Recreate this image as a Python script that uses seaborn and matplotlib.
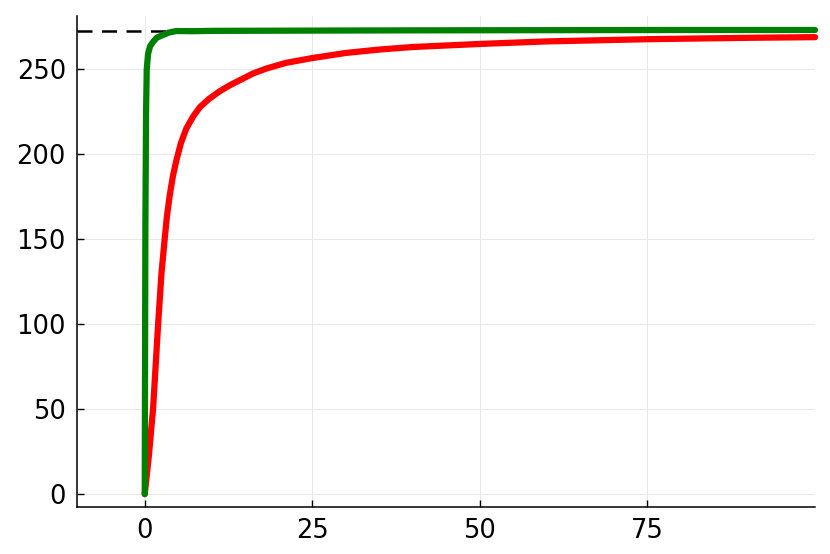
import matplotlib
matplotlib.use("Agg")
import matplotlib.pyplot as plt
import seaborn as sns
import pandas as pd

# Data
red_x = [0, 0.6, 1.24, 2, 2.5, 3, 3.3, 3.7, 4.2, 4.7, 5.4, 6.2, 7.2, 8.2, 9.6, 11.2, 12.7, 14.2, 16.2, 18.2, 21.1, 25, 30, 35, 40, 50, 60, 75, 90, 100]
red_y = [0, 22, 50, 100, 130, 151, 163, 175, 187, 196, 206.5, 215, 222, 227.5, 232.5, 237, 240.5, 243.5, 247.5, 250.4, 253.7, 256.5, 259.5, 261.5, 263, 264.8, 266.3, 267.6, 268.4, 268.8]
green_x = [0, 0.05, 0.1, 0.2, 0.3, 0.5, 0.8, 1.24, 1.8, 2.7, 3.6, 4.7, 7, 10, 20, 40, 60, 80, 100]
green_y = [0, 80, 160, 225, 250, 259, 263.5, 266, 268.5, 270, 271.5, 272.4, 272.3, 272.5, 272.6, 272.8, 272.9, 273, 273]
target_y = 272.5
x_ticks = [0, 25, 50, 75]
y_ticks = [0, 50, 100, 150, 200, 250]

sns.set_style("white")
plt.rcParams['font.family'] = ['DejaVu Sans']

fig = plt.figure(figsize=(8.3, 5.54), dpi=100)
ax = fig.add_axes([0.0928, 0.0848, 0.982 - 0.0928, 0.971 - 0.0848])

ax.axhline(target_y, color="black", linestyle=(0, (6, 3.8)), linewidth=1.8, zorder=1)

red_df = pd.DataFrame({"x": red_x, "y": red_y})
green_df = pd.DataFrame({"x": green_x, "y": green_y})
sns.lineplot(data=red_df, x="x", y="y", ax=ax, color="#ff0000", linewidth=4.5,
             solid_capstyle="round", solid_joinstyle="round", zorder=2, clip_on=False)
sns.lineplot(data=green_df, x="x", y="y", ax=ax, color="#008000", linewidth=4.5,
             solid_capstyle="round", solid_joinstyle="round", zorder=3, clip_on=False)

ax.set_xlim(-10.1, 100)
ax.set_ylim(-7.6, 281.2)
ax.set_xticks(x_ticks)
ax.set_yticks(y_ticks)
ax.set_xlabel("")
ax.set_ylabel("")
ax.grid(True, color="#e8e8e8", linewidth=0.7)
for s in ["top", "right"]:
    ax.spines[s].set_visible(False)
for s in ["left", "bottom"]:
    ax.spines[s].set_color("black")
    ax.spines[s].set_linewidth(1.1)
ax.tick_params(direction="in", length=5, width=1, labelsize=18.5, colors="black", pad=8,
               left=True, bottom=True)

fig.savefig("out.png", dpi=100)
